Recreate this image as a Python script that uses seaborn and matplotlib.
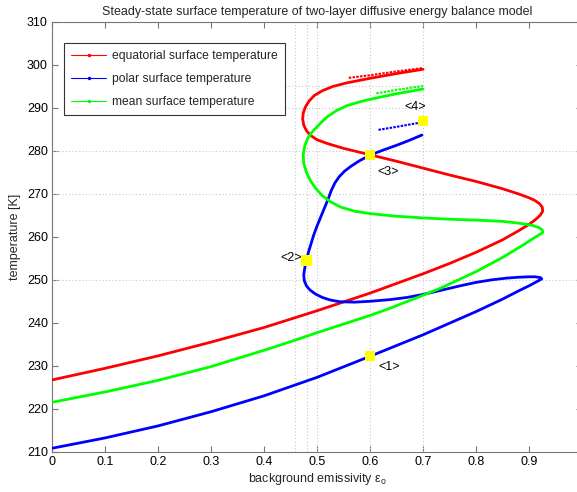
import numpy as np
import pandas as pd
import matplotlib
matplotlib.use("Agg")
import matplotlib.pyplot as plt
from matplotlib.lines import Line2D
import seaborn as sns

# ---------------- data ----------------
# equatorial surface temperature (main continuation path)
eq_eps = [0.0, 0.1, 0.2, 0.3, 0.4, 0.5, 0.6, 0.7, 0.75, 0.8, 0.85, 0.88, 0.9, 0.912, 0.921, 0.926,
          0.925, 0.92, 0.912, 0.9, 0.88, 0.85, 0.8, 0.75, 0.7, 0.65, 0.6, 0.55, 0.52, 0.5,
          0.488, 0.48, 0.475, 0.473, 0.474, 0.478, 0.485, 0.495, 0.51, 0.53, 0.555, 0.6, 0.65, 0.7]
eq_T = [226.7, 229.4, 232.3, 235.5, 238.9, 242.8, 246.9, 251.4, 253.8, 256.4, 259.3, 261.4, 262.9,
        264.0, 265.0, 266.0,
        266.9, 267.7, 268.4, 269.1, 270.0, 271.2, 272.9, 274.4, 276.0, 277.6, 279.1, 280.6, 281.7,
        282.6, 283.6, 284.7, 286.0, 287.4, 288.8, 290.2, 291.6, 292.9, 294.0, 295.0, 295.8, 296.9,
        298.0, 299.0]
# equatorial, secondary (noisy) upper segment
eq2_eps = [0.56, 0.6, 0.65, 0.7]
eq2_T = [297.0, 297.6, 298.5, 299.3]

# polar surface temperature
po_eps = [0.0, 0.1, 0.2, 0.3, 0.4, 0.5, 0.6, 0.7, 0.8, 0.85, 0.88, 0.9, 0.915, 0.924,
          0.922, 0.912, 0.9, 0.88, 0.858, 0.83, 0.8, 0.77, 0.732, 0.7, 0.67, 0.638, 0.6, 0.57,
          0.543, 0.525, 0.51, 0.497, 0.487, 0.48, 0.476, 0.475, 0.477, 0.48, 0.484, 0.489,
          0.494, 0.5, 0.507, 0.514, 0.521, 0.527, 0.534, 0.542, 0.552, 0.565, 0.58, 0.6,
          0.625, 0.65, 0.675, 0.698]
po_T = [210.8, 213.2, 216.0, 219.3, 223.0, 227.3, 232.2, 237.2, 242.6, 245.5, 247.4, 248.6,
        249.6, 250.2,
        250.5, 250.7, 250.7, 250.6, 250.4, 250.0, 249.4, 248.6, 247.5, 246.6, 245.9, 245.4,
        245.0, 244.8, 244.9, 245.3, 245.9, 246.7, 247.6, 248.6, 249.8, 251.2, 252.8, 254.5,
        256.5, 258.5, 260.5, 262.5, 264.6, 266.7, 268.8, 270.8, 272.6, 274.0, 275.3, 276.5,
        277.7, 279.0, 280.2, 281.3, 282.5, 283.7]
po2_eps = [0.616, 0.65, 0.7]
po2_T = [284.9, 285.6, 286.7]

# mean surface temperature
me_eps = [0.0, 0.1, 0.2, 0.3, 0.4, 0.45, 0.5, 0.6, 0.638, 0.7, 0.732, 0.8, 0.85, 0.889, 0.905,
          0.918, 0.926,
          0.925, 0.918, 0.905, 0.88, 0.85, 0.8, 0.75, 0.7, 0.65, 0.6, 0.57, 0.545, 0.525, 0.51,
          0.498, 0.488, 0.48, 0.475, 0.474, 0.477, 0.482, 0.49, 0.5, 0.51, 0.52, 0.537, 0.556,
          0.58, 0.6, 0.65, 0.7]
me_T = [221.5, 223.9, 226.6, 229.8, 233.6, 235.6, 237.7, 241.7, 243.4, 246.4, 248.0, 251.9, 255.2,
        258.1, 259.4, 260.4, 261.0,
        261.6, 262.2, 262.7, 263.2, 263.6, 263.9, 264.1, 264.4, 264.8, 265.4, 266.0, 266.9,
        268.2, 269.6, 271.2, 273.0, 275.0, 277.1, 279.2, 281.2, 282.8, 284.3, 285.6, 286.9,
        288.0, 289.4, 290.5, 291.4, 292.0, 293.3, 294.4]
me2_eps = [0.612, 0.65, 0.7]
me2_T = [293.4, 294.2, 295.1]

# highlighted states
pt_eps = [0.6, 0.48, 0.6, 0.7]
pt_T = [232.2, 254.5, 279.0, 287.0]
pt_labels = ["<1>", "<2>", "<3>", "<4>"]
lab_eps = [0.616, 0.43, 0.613, 0.664]
lab_T = [229.8, 255.0, 275.0, 290.2]

# guide lines
v_guides = [0.4585, 0.4805, 0.5, 0.6, 0.7]
h_guides_full = [250, 270, 280]
h_guides_part = [290, 295]

series_names = ["equatorial surface temperature", "polar surface temperature",
                "mean surface temperature"]
series_colors = ["#ff0000", "#0000ff", "#00ff00"]

# ---------------- plotting ----------------
sns.set_theme(style="white")
plt.rcParams['font.family'] = ['Liberation Sans', 'DejaVu Sans']
plt.rcParams['mathtext.fontset'] = 'custom'
plt.rcParams['mathtext.rm'] = 'Liberation Sans'
plt.rcParams['mathtext.it'] = 'Liberation Sans'

fig = plt.figure(figsize=(5.77, 4.92), dpi=100)
ax = fig.add_axes([52 / 577, 1 - 451.7 / 492, 530 / 577, (451.7 - 22) / 492])

gcol = "#c8c8c8"
for v in v_guides:
    ax.axvline(v, color=gcol, ls=(0, (1, 2)), lw=0.8, zorder=1)
for h in h_guides_full:
    ax.axhline(h, color=gcol, ls=(0, (1, 2)), lw=0.8, zorder=1)
for h in h_guides_part:
    ax.plot([0.44, 0.7], [h, h], color=gcol, ls=(0, (1, 2)), lw=0.8, zorder=1)

main = [(eq_eps, eq_T), (po_eps, po_T), (me_eps, me_T)]
extra = [(eq2_eps, eq2_T), (po2_eps, po2_T), (me2_eps, me2_T)]
for (xs, ys), c in zip(main, series_colors):
    sns.lineplot(x=xs, y=ys, sort=False, estimator=None, color=c, lw=2.0, ax=ax, zorder=3)
for (xs, ys), c in zip(extra, series_colors):
    sns.lineplot(x=xs, y=ys, sort=False, estimator=None, color=c, lw=1.5,
                 ls=(0, (1.2, 0.6)), ax=ax, zorder=3)

sns.scatterplot(x=pt_eps, y=pt_T, marker="s", s=55, color="#ffff00", edgecolor="none",
                ax=ax, zorder=5, legend=False)
for xe, yt, t in zip(lab_eps, lab_T, pt_labels):
    ax.text(xe, yt, t, fontsize=9, ha="left", va="center", color="black", zorder=6)

ax.set_xlim(0, 1)
ax.set_ylim(210, 310)
ax.set_xticks(np.arange(0, 1.0, 0.1))
ax.set_xticklabels(["0", "0.1", "0.2", "0.3", "0.4", "0.5", "0.6", "0.7", "0.8", "0.9"])
ax.set_yticks(np.arange(210, 311, 10))
ax.tick_params(direction="in", length=4, width=0.8, colors="#777777", labelcolor="black",
               labelsize=9, top=True, right=True, bottom=True, left=True, pad=3)
for s in ax.spines.values():
    s.set_color("#777777")
    s.set_linewidth(0.8)

ax.set_title("Steady-state surface temperature of two-layer diffusive energy balance model",
             fontsize=9, pad=5)
ax.set_xlabel("background emissivity \u03b5$_\\mathregular{o}$", fontsize=9, labelpad=2)
ax.set_ylabel("temperature [K]", fontsize=9, labelpad=4)

handles = [Line2D([0], [0], color=c, lw=0.8, marker=".", markersize=3) for c in series_colors]
leg = ax.legend(handles, series_names, loc="upper left", bbox_to_anchor=(0.0226, 0.951),
                fontsize=8.7, frameon=True, fancybox=False, edgecolor="black",
                handlelength=2.9, handletextpad=0.5, borderpad=0.6, labelspacing=0.9,
                borderaxespad=0)
leg.get_frame().set_linewidth(0.8)

fig.savefig("out.png", dpi=100)
